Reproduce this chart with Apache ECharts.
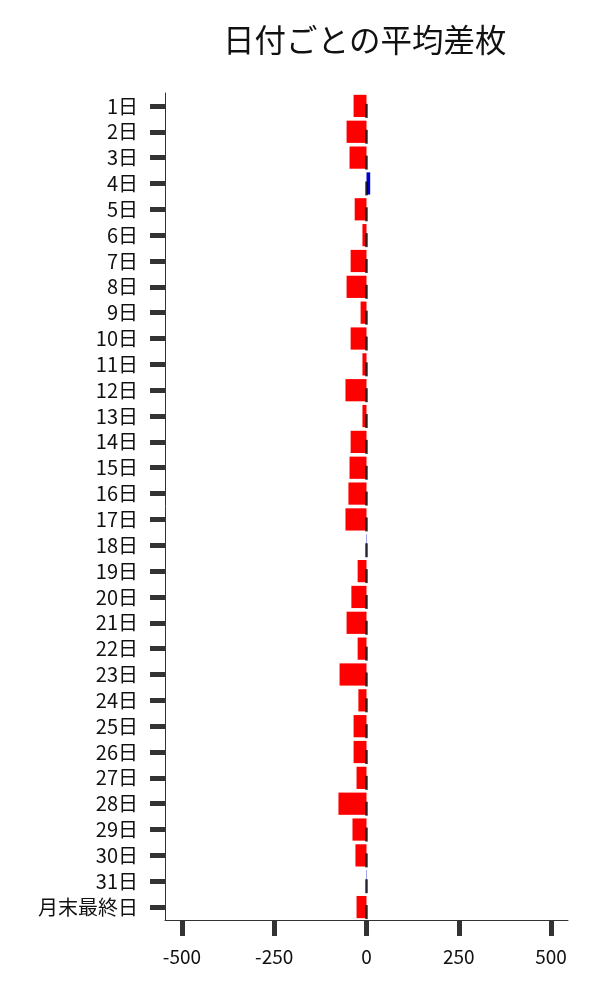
<!DOCTYPE html>
<html>
<head>
<meta charset="utf-8">
<script src="https://cdn.jsdelivr.net/npm/echarts@6/dist/echarts.min.js"></script>
<style>
  html, body { margin: 0; padding: 0; background: #fff; }
  #main { width: 600px; height: 1000px; }
</style>
</head>
<body>
<div id="main"></div>
<script>
// データ
var days = ['1日','2日','3日','4日','5日','6日','7日','8日','9日','10日',
  '11日','12日','13日','14日','15日','16日','17日','18日','19日','20日',
  '21日','22日','23日','24日','25日','26日','27日','28日','29日','30日',
  '31日','月末最終日'];
var avgDiff = [-35, -54, -46, 10, -32, -11, -43, -54, -16, -43,
  -11, -57, -11, -43, -46, -49, -57, 1, -24, -41,
  -54, -24, -73, -22, -35, -35, -27, -76, -38, -30,
  1, -27];
var xTicks = [-500, -250, 0, 250, 500];
var zeroMarks = days.map(function () { return 0; });

var myChart = echarts.init(document.getElementById('main'));

var option = {
  animation: false,
  backgroundColor: '#fff',
  textStyle: { fontFamily: '"Noto Sans CJK JP", "Noto Sans", sans-serif' },
  title: {
    text: '日付ごとの平均差枚',
    left: 218,
    top: 19,
    textStyle: { fontSize: 31.5, fontWeight: 'normal', color: '#111',
      fontFamily: '"Noto Sans CJK JP", sans-serif' }
  },
  grid: { left: 165, right: 32, top: 93, bottom: 80, containLabel: false },
  xAxis: {
    type: 'value',
    min: -546,
    max: 546,
    splitLine: { show: false },
    axisLine: { show: true, onZero: false, lineStyle: { color: '#333', width: 1 } },
    axisTick: { show: true, customValues: xTicks, length: 16, lineStyle: { color: '#333', width: 5 } },
    axisLabel: { customValues: xTicks, fontSize: 19, color: '#111', margin: 27 }
  },
  yAxis: {
    type: 'category',
    data: days,
    inverse: true,
    axisLine: { show: true, onZero: false, lineStyle: { color: '#333', width: 1 } },
    axisTick: { show: true, alignWithLabel: true, interval: 0, length: 15, lineStyle: { color: '#333', width: 5 } },
    axisLabel: { interval: 0, fontSize: 20, color: '#111', margin: 27 }
  },
  series: [
    {
      name: '平均差枚',
      type: 'bar',
      data: avgDiff.map(function (v) {
        return { value: v, itemStyle: { color: v >= 0 ? '#0000cd' : '#ff0000' } };
      }),
      barCategoryGap: '14%'
    },
    {
      name: 'zero',
      type: 'scatter',
      data: zeroMarks,
      symbol: 'rect',
      symbolSize: [2.5, 14],
      symbolOffset: [0, 5],
      itemStyle: { color: '#000' },
      z: 3
    }
  ]
};

myChart.setOption(option);
</script>
</body>
</html>
